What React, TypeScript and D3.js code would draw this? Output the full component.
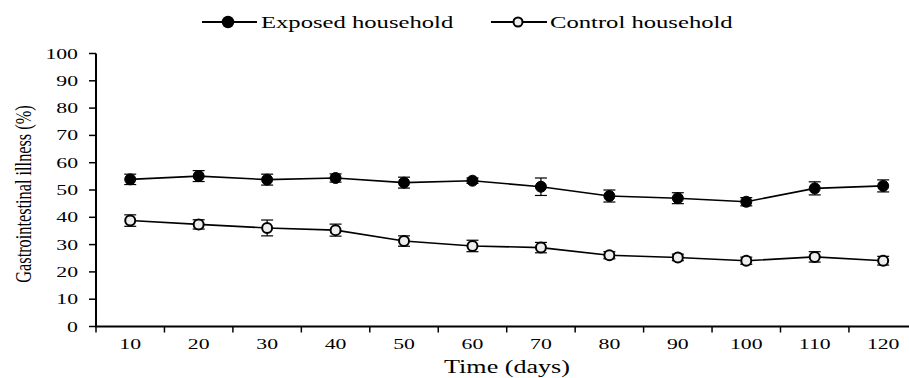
import React from "react";
import * as d3 from "d3";

const days = ["10", "20", "30", "40", "50", "60", "70", "80", "90", "100", "110", "120"];
const exposed = [53.9, 55.1, 53.8, 54.4, 52.7, 53.4, 51.2, 47.8, 47.0, 45.7, 50.6, 51.5];
const exposedErr = [1.9, 2.0, 2.0, 1.5, 2.0, 1.0, 3.2, 2.2, 2.0, 1.5, 2.4, 2.2];
const control = [38.8, 37.4, 36.1, 35.3, 31.3, 29.5, 28.9, 26.1, 25.3, 24.1, 25.5, 24.1];
const controlErr = [2.1, 1.7, 2.9, 2.2, 1.9, 2.1, 1.9, 1.3, 1.2, 1.3, 1.9, 1.6];
const yTicks = [0, 10, 20, 30, 40, 50, 60, 70, 80, 90, 100];

const W = 909, H = 378;
const font = '"Liberation Serif", "Times New Roman", Times, serif';
const SX = 1.45;

function SText(props: { x: number; y: number; size: number; anchor?: string; children: React.ReactNode; rotate?: number }) {
  const { x, y, size, anchor = "start", children, rotate } = props;
  return (
    <text
      transform={`translate(${x},${y}) scale(${SX},1)${rotate ? ` rotate(${rotate})` : ""}`}
      textAnchor={anchor}
      style={{ fontFamily: font, fontSize: size }}
      fill="#000"
    >
      {children}
    </text>
  );
}

export default function App() {
  const x = d3.scaleBand<string>().domain(days).range([96, 96 + 12 * 68.45]);
  const y = d3.scaleLinear().domain([0, 100]).range([326.5, 53.5]);
  const cx = (d: string) => (x(d) as number) + x.bandwidth() / 2;
  const line = d3.line<number>().x((_, i) => cx(days[i])).y((v) => y(v));

  const series = [
    { vals: exposed, err: exposedErr, fill: "#000", r: 5.5 },
    { vals: control, err: controlErr, fill: "#eeeeee", r: 5 },
  ];

  return (
    <svg width={W} height={H} style={{ position: "absolute", left: 0, top: 0, background: "#fff" }}>
      <rect width={W} height={H} fill="#fff" />
      {/* legend */}
      <line x1={202} x2={257} y1={22} y2={22} stroke="#000" strokeWidth={2} />
      <circle cx={228} cy={22} r={5.5} fill="#000" stroke="#000" strokeWidth={1.5} />
      <SText x={261} y={28} size={17}>Exposed household</SText>
      <line x1={491} x2={547} y1={22} y2={22} stroke="#000" strokeWidth={2} />
      <circle cx={518} cy={22} r={4.5} fill="#eeeeee" stroke="#000" strokeWidth={2} />
      <SText x={550} y={28} size={17}>Control household</SText>
      {/* y axis */}
      <line x1={96} x2={96} y1={y(100)} y2={y(0)} stroke="#000" strokeWidth={2} />
      {yTicks.map((t) => (
        <g key={t}>
          <line x1={89} x2={96} y1={y(t)} y2={y(t)} stroke="#000" strokeWidth={1.5} />
          <SText x={78} y={y(t) + 5} size={15} anchor="end">{t}</SText>
        </g>
      ))}
      {/* x axis */}
      <line x1={95} x2={W} y1={y(0)} y2={y(0)} stroke="#000" strokeWidth={2} />
      {days.map((d) => (
        <g key={d}>
          <line x1={x(d)} x2={x(d)} y1={y(0)} y2={y(0) + 6} stroke="#000" strokeWidth={1.5} />
          <SText x={cx(d)} y={349} size={15} anchor="middle">{d}</SText>
        </g>
      ))}
      <SText x={507} y={373} size={18} anchor="middle">Time (days)</SText>
      <SText x={31} y={194} size={16.3} anchor="middle" rotate={-90}>Gastrointestinal illness (%)</SText>
      {/* series */}
      {series.map((s, si) => (
        <g key={si}>
          <path d={line(s.vals) as string} fill="none" stroke="#000" strokeWidth={1.6} />
          {s.vals.map((v, i) => {
            const px = cx(days[i]);
            return (
              <g key={i}>
                <line x1={px} x2={px} y1={y(v + s.err[i])} y2={y(v - s.err[i])} stroke="#000" strokeWidth={1.2} />
                <line x1={px - 6} x2={px + 6} y1={y(v + s.err[i])} y2={y(v + s.err[i])} stroke="#000" strokeWidth={1.2} />
                <line x1={px - 6} x2={px + 6} y1={y(v - s.err[i])} y2={y(v - s.err[i])} stroke="#000" strokeWidth={1.2} />
                <circle cx={px} cy={y(v)} r={s.r} fill={s.fill} stroke="#000" strokeWidth={si === 0 ? 1 : 2} />
              </g>
            );
          })}
        </g>
      ))}
    </svg>
  );
}
